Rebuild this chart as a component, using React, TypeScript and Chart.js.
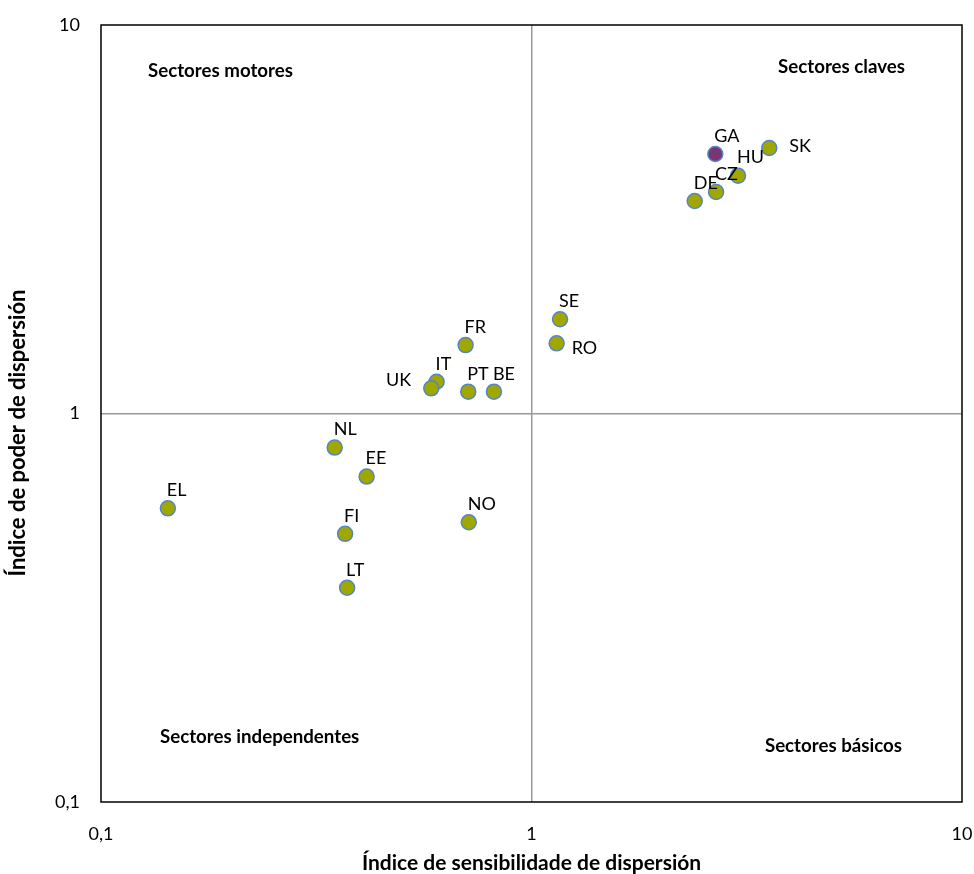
import React, { useEffect, useRef } from "react";
import { Chart, registerables } from "chart.js";

Chart.register(...registerables);

// ---- Data ----
const countries = ["EL", "NL", "EE", "FI", "LT", "NO", "FR", "IT", "UK", "PT", "BE", "SE", "RO", "SK", "HU", "CZ", "DE"];
const sensitivity = [0.143, 0.349, 0.414, 0.369, 0.373, 0.715, 0.703, 0.602, 0.585, 0.713, 0.818, 1.165, 1.144, 3.567, 3.018, 2.684, 2.394];
const dispersion = [0.570, 0.817, 0.688, 0.490, 0.356, 0.525, 1.50, 1.207, 1.161, 1.138, 1.138, 1.748, 1.516, 4.825, 4.094, 3.717, 3.524];

const highlightLabel = ["GA"];
const highlightX = [2.673];
const highlightY = [4.655];

const axisTicks = [0.1, 1, 10];
const xTitle = "Índice de sensibilidade de dispersión";
const yTitle = "Índice de poder de dispersión";
const quadrantLabels = ["Sectores motores", "Sectores claves", "Sectores independentes", "Sectores básicos"];

const labelSide: Record<string, string> = { UK: "left", SK: "right", RO: "right" };

const FONT = "Lato, 'Open Sans', sans-serif";

const fmt = (v: number) => String(v).replace(".", ",");

const overlayPlugin = {
  id: "overlay",
  afterDatasetsDraw(chart: any) {
    const { ctx, chartArea: a } = chart;
    ctx.save();
    // frame
    ctx.strokeStyle = "#000";
    ctx.lineWidth = 1.5;
    ctx.strokeRect(a.left, a.top, a.right - a.left, a.bottom - a.top);

    // point labels
    ctx.fillStyle = "#000";
    ctx.font = `18px ${FONT}`;
    ctx.textBaseline = "middle";
    chart.data.datasets.forEach((ds: any, di: number) => {
      const meta = chart.getDatasetMeta(di);
      meta.data.forEach((el: any, i: number) => {
        const name = ds.names[i];
        const side = labelSide[name] || "above";
        if (side === "left") {
          ctx.textAlign = "right";
          ctx.fillText(name, el.x - 20, el.y - 8);
        } else if (side === "right") {
          ctx.textAlign = "left";
          ctx.fillText(name, el.x + (name === "RO" ? 15 : 20), el.y + (name === "RO" ? 5 : -2));
        } else {
          ctx.textAlign = "left";
          ctx.fillText(name, el.x - 1, el.y - 18);
        }
      });
    });

    // quadrant labels
    ctx.font = `bold 18.7px ${FONT}`;
    ctx.textAlign = "left";
    ctx.fillText(quadrantLabels[0], a.left + 47, a.top + 46);
    ctx.textAlign = "right";
    ctx.fillText(quadrantLabels[1], a.right - 57, a.top + 42);
    ctx.textAlign = "left";
    ctx.fillText(quadrantLabels[2], a.left + 59, a.bottom - 65);
    ctx.textAlign = "right";
    ctx.fillText(quadrantLabels[3], a.right - 60, a.bottom - 56);

    // y axis title
    ctx.font = `bold 22px ${FONT}`;
    ctx.textAlign = "center";
    ctx.translate(18, 433);
    ctx.rotate(-Math.PI / 2);
    ctx.fillText(yTitle, 0, 0);
    ctx.restore();
  },
};

export default function App() {
  const ref = useRef<HTMLCanvasElement>(null);

  useEffect(() => {
    if (!ref.current) return;
    const gridColor = (c: any) => (c.tick && c.tick.value === 1 ? "#9a9a9a" : "rgba(0,0,0,0)");
    const chart = new Chart(ref.current, {
      type: "scatter",
      data: {
        datasets: [
          {
            label: "Países",
            names: countries,
            data: sensitivity.map((x, i) => ({ x, y: dispersion[i] })),
            backgroundColor: "#A0A800",
            borderColor: "#5585C5",
            borderWidth: 1.5,
            pointRadius: 7.5,
          } as any,
          {
            label: "GA",
            names: highlightLabel,
            data: highlightX.map((x, i) => ({ x, y: highlightY[i] })),
            backgroundColor: "#7A3577",
            borderColor: "#5585C5",
            borderWidth: 1.5,
            pointRadius: 7.5,
          } as any,
        ],
      },
      options: {
        animation: false,
        responsive: false,
        layout: { padding: { top: 25, right: 12, left: 0, bottom: 0 } },
        plugins: { legend: { display: false }, tooltip: { enabled: false } },
        scales: {
          x: {
            type: "logarithmic",
            min: 0.1,
            max: 10,
            afterBuildTicks: (s: any) => {
              s.ticks = axisTicks.map((v) => ({ value: v }));
            },
            afterFit: (s: any) => {
              s.height = 72;
              s.paddingLeft = 0;
              s.paddingRight = 0;
            },
            ticks: {
              callback: (v: any) => fmt(Number(v)),
              font: { family: FONT, size: 18 },
              color: "#000",
              padding: 21,
              maxRotation: 0,
            },
            grid: { color: gridColor, lineWidth: 1.5, drawTicks: false },
            border: { display: false },
            title: {
              display: true,
              text: xTitle,
              font: { family: FONT, size: 21, weight: "bold", lineHeight: 1 },
              color: "#000",
              padding: { top: 0, bottom: 0.5 },
            },
          },
          y: {
            type: "logarithmic",
            min: 0.1,
            max: 10,
            afterBuildTicks: (s: any) => {
              s.ticks = axisTicks.map((v) => ({ value: v }));
            },
            afterFit: (s: any) => {
              s.width = 101;
              s.paddingTop = 0;
              s.paddingBottom = 0;
            },
            ticks: {
              callback: (v: any) => fmt(Number(v)),
              font: { family: FONT, size: 18 },
              color: "#000",
              padding: 21,
            },
            grid: { color: gridColor, lineWidth: 1.5, drawTicks: false },
            border: { display: false },
          },
        },
      } as any,
      plugins: [overlayPlugin],
    });
    return () => chart.destroy();
  }, []);

  return (
    <div style={{ position: "absolute", left: 0, top: 0, width: 974, height: 874, background: "#fff" }}>
      <canvas ref={ref} width={974} height={874} style={{ display: "block" }} />
    </div>
  );
}
